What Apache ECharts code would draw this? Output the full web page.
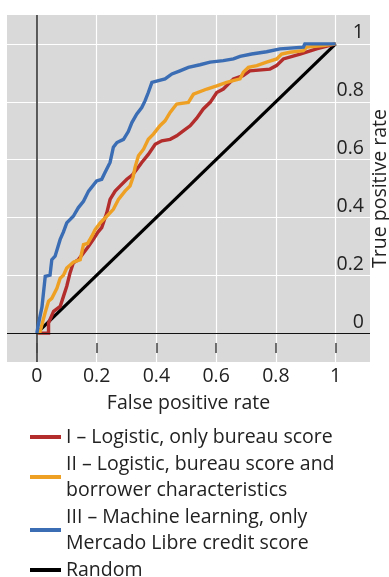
<!DOCTYPE html>
<html>
<head>
<meta charset="utf-8">
<script src="https://cdn.jsdelivr.net/npm/echarts@6/dist/echarts.min.js"></script>
<style>
  html, body { margin: 0; padding: 0; background: #fff; }
  #chart { width: 389px; height: 577px; }
</style>
</head>
<body>
<div id="chart"></div>
<script>
// ── Data ──────────────────────────────────────────────────────────────
const xTicks = [0, 0.2, 0.4, 0.6, 0.8, 1];
const yTicks = [0, 0.2, 0.4, 0.6, 0.8, 1];

const names = [
  'I \u2013 Logistic, only bureau score',
  'II \u2013 Logistic, bureau score and\nborrower characteristics',
  'III \u2013 Machine learning, only\nMercado Libre credit score',
  'Random'
];

// I – Logistic, only bureau score
const rocLogit = [
  [0, 0], [0.039, 0], [0.039, 0.035], [0.056, 0.075], [0.078, 0.092], [0.089, 0.127],
  [0.1, 0.162], [0.111, 0.208], [0.122, 0.243], [0.139, 0.254], [0.156, 0.277],
  [0.173, 0.3], [0.189, 0.324], [0.205, 0.35], [0.217, 0.365], [0.234, 0.416],
  [0.245, 0.462], [0.262, 0.491], [0.279, 0.509], [0.301, 0.532], [0.318, 0.545],
  [0.334, 0.566], [0.351, 0.59], [0.373, 0.618], [0.396, 0.653], [0.418, 0.665],
  [0.446, 0.67], [0.468, 0.682], [0.49, 0.699], [0.513, 0.717], [0.535, 0.743],
  [0.557, 0.775], [0.58, 0.798], [0.602, 0.832], [0.624, 0.844], [0.658, 0.879],
  [0.69, 0.89], [0.713, 0.907], [0.78, 0.913], [0.802, 0.925], [0.825, 0.948],
  [0.881, 0.965], [0.936, 0.983], [1, 1]
];

// II – Logistic, bureau score and borrower characteristics
const rocLogitPlus = [
  [0, 0], [0.011, 0.005], [0.017, 0.029], [0.028, 0.072], [0.039, 0.11], [0.05, 0.12],
  [0.067, 0.155], [0.078, 0.19], [0.089, 0.2], [0.1, 0.225], [0.122, 0.245],
  [0.145, 0.254], [0.156, 0.306], [0.17, 0.31], [0.184, 0.335], [0.195, 0.358],
  [0.212, 0.381], [0.234, 0.404], [0.256, 0.428], [0.273, 0.462], [0.295, 0.491],
  [0.312, 0.509], [0.322, 0.54], [0.329, 0.575], [0.34, 0.613], [0.357, 0.636],
  [0.373, 0.67], [0.39, 0.688], [0.412, 0.717], [0.429, 0.734], [0.446, 0.763],
  [0.468, 0.792], [0.507, 0.798], [0.524, 0.826], [0.569, 0.844], [0.602, 0.855],
  [0.635, 0.867], [0.68, 0.879], [0.691, 0.902], [0.708, 0.919], [0.736, 0.925],
  [0.769, 0.937], [0.803, 0.948], [0.819, 0.965], [0.847, 0.971], [0.892, 0.977],
  [0.903, 0.989], [0.959, 0.994], [1, 1]
];

// III – Machine learning, only Mercado Libre credit score
const rocML = [
  [0, 0], [0.005, 0.03], [0.017, 0.09], [0.028, 0.196], [0.044, 0.2], [0.05, 0.254],
  [0.061, 0.266], [0.078, 0.324], [0.089, 0.35], [0.1, 0.381], [0.122, 0.404],
  [0.139, 0.434], [0.156, 0.456], [0.173, 0.491], [0.2, 0.526], [0.217, 0.532],
  [0.228, 0.555], [0.245, 0.59], [0.256, 0.643], [0.268, 0.659], [0.29, 0.67],
  [0.306, 0.697], [0.318, 0.728], [0.334, 0.757], [0.351, 0.78], [0.362, 0.803],
  [0.373, 0.832], [0.385, 0.867], [0.407, 0.873], [0.429, 0.879], [0.452, 0.896],
  [0.479, 0.907], [0.507, 0.919], [0.546, 0.928], [0.58, 0.937], [0.624, 0.942],
  [0.658, 0.948], [0.68, 0.957], [0.719, 0.965], [0.769, 0.973], [0.814, 0.983],
  [0.892, 0.989], [0.897, 1], [1, 1]
];

const rocRandom = [[0, 0], [1, 1]];

// ── Style ─────────────────────────────────────────────────────────────
const fontFamily = '"Open Sans", "Noto Sans", sans-serif';
const textColor  = '#222222';
const fontSize   = 19.5;
const colors     = ['#B22D2C', '#EEA024', '#3A6DB3', '#000000'];
const plotBg     = '#D9D9D9';

const chart = echarts.init(document.getElementById('chart'), null, { renderer: 'canvas' });

const lineSeries = (name, data, color, width, z) => ({
  name, type: 'line', data, z,
  showSymbol: false, symbol: 'none',
  lineStyle: { color, width, join: 'miter', cap: 'butt' },
  itemStyle: { color },
  silent: true,
  animation: false
});

chart.setOption({
  animation: false,
  grid: {
    left: 7, right: 19, top: 15, bottom: 215,
    outerBoundsMode: 'none',
    containLabel: false,
    show: true, backgroundColor: plotBg, borderWidth: 0
  },
  legend: {
    orient: 'vertical',
    left: 25, top: 419, height: 220,
    itemWidth: 31, itemHeight: 4, itemGap: 1,
    icon: 'rect',
    selectedMode: false,
    textStyle: { fontFamily, fontSize, color: textColor, lineHeight: 26 },
    data: names
  },
  xAxis: {
    type: 'value',
    min: -0.1, max: 1.115,
    position: 'bottom',
    offset: -9,
    name: 'False positive rate',
    nameLocation: 'middle',
    nameGap: 40,
    nameMoveOverlap: false,
    nameTextStyle: { fontFamily, fontSize, color: textColor },
    axisLine: { show: false, onZero: false },
    axisTick: { show: true, inside: true, length: 10, customValues: xTicks,
                lineStyle: { color: '#444', width: 1.5 } },
    axisLabel: { customValues: xTicks, margin: 13, fontFamily, fontSize, color: textColor,
                 formatter: v => String(v) },
    splitLine: { show: true, lineStyle: { color: '#FFFFFF', width: 1.2 } }
  },
  yAxis: {
    type: 'value',
    min: -0.1, max: 1.1,
    position: 'right',
    name: 'True positive rate',
    nameLocation: 'middle',
    nameRotate: 90,
    nameGap: 10,
    nameMoveOverlap: false,
    nameTextStyle: { fontFamily, fontSize, color: textColor, verticalAlign: 'middle' },
    axisLine: { show: false, onZero: false },
    axisTick: { show: false, customValues: yTicks },
    axisLabel: { customValues: yTicks, inside: true, margin: 6, fontFamily, fontSize,
                 color: textColor, verticalAlign: 'bottom', align: 'right',
                 padding: [0, 0, 1, 0], formatter: v => String(v) },
    splitLine: { show: true, lineStyle: { color: '#FFFFFF', width: 1.2 } }
  },
  series: [
    Object.assign(lineSeries(names[3], rocRandom, colors[3], 3.2, 2), {
      markLine: {
        silent: true, symbol: 'none', animation: false,
        label: { show: false },
        data: [
          { xAxis: 0, lineStyle: { color: '#4A4A4A', width: 1.8, type: 'solid' } },
          { yAxis: 0, lineStyle: { color: '#111111', width: 1.1, type: 'solid' } }
        ]
      }
    }),
    lineSeries(names[0], rocLogit, colors[0], 3.4, 3),
    lineSeries(names[1], rocLogitPlus, colors[1], 3.4, 4),
    lineSeries(names[2], rocML, colors[2], 3.4, 5)
  ]
});
</script>
</body>
</html>
